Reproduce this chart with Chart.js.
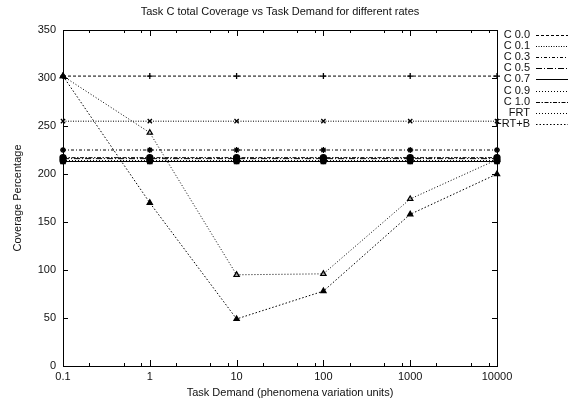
<!DOCTYPE html>
<html lang="en-US">
<head>
<meta charset="utf-8">
<title>Task C total Coverage</title>
<script src="https://cdn.jsdelivr.net/npm/chart.js@4/dist/chart.umd.min.js"></script>
<style>
  html, body { margin: 0; padding: 0; background: #fff; }
  #holder { width: 571px; height: 405px; }
</style>
</head>
<body>
<div id="holder"><canvas id="chart"></canvas></div>
<script>
// task demand values (log axis) and their tick labels
const demand = [0.1, 1, 10, 100, 1000, 10000];
const xTickLabels = ['0.1', '1', '10', '100', '1000', '10000'];
const yTicks = [0, 50, 100, 150, 200, 250, 300, 350];

const seriesNames = ['C 0.0', 'C 0.1', 'C 0.3', 'C 0.5', 'C 0.7', 'C 0.9', 'C 1.0', 'FRT', 'FRT+B'];
const c00 = [302, 302, 302, 302, 302, 302];
const c01 = [255, 255, 255, 255, 255, 255];
const c03 = [225, 225, 225, 225, 225, 225];
const c05 = [216, 216, 216, 216, 216, 216];
const c07 = [213, 213, 213, 213, 213, 213];
const c09 = [214, 214, 214, 214, 214, 214];
const c10 = [217, 217, 217, 217, 217, 217];
const frt = [302, 243, 95, 96, 174, 215];
const frtB = [302, 170, 49, 78, 158, 200];

const values = [c00, c01, c03, c05, c07, c09, c10, frt, frtB];
const dashes = [[3, 2], [1, 1.5], [3, 2, 1, 2], [6, 2, 1, 2], [], [1, 2], [4, 1.5, 1.5, 1.5], [1, 2], [1.5, 2]];
const marks = ['cross', 'crossRot', 'star', 'rect', 'rect', 'circle', 'circle', 'triangle', 'triangle'];
const filled = [false, false, false, false, true, false, true, false, true];

const FONT = '"Liberation Sans", Arial, Helvetica, sans-serif';

const datasets = seriesNames.map((name, i) => ({
  label: name,
  data: demand.map((d, k) => ({ x: d, y: values[i][k] })),
  borderColor: '#000',
  backgroundColor: filled[i] ? '#000' : '#fff',
  borderWidth: 1,
  borderDash: dashes[i],
  pointStyle: marks[i],
  pointRadius: 3,
  pointBorderWidth: 1.3,
  pointBorderColor: '#000',
  pointBackgroundColor: filled[i] ? '#000' : 'rgba(0,0,0,0)',
  fill: false,
  tension: 0,
  clip: 6
}));

// gnuplot-like frame, inward ticks, titles and key
const decor = {
  id: 'decor',
  afterDraw(chart) {
    const ctx = chart.ctx;
    const a = chart.chartArea;
    const xs = chart.scales.x, ys = chart.scales.y;
    ctx.save();
    ctx.strokeStyle = '#000';
    ctx.lineWidth = 1;
    ctx.setLineDash([]);
    ctx.strokeRect(Math.round(a.left) + 0.5, Math.round(a.top) + 0.5,
      Math.round(a.right - a.left), Math.round(a.bottom - a.top));

    ctx.beginPath();
    yTicks.forEach(v => {
      const y = Math.round(ys.getPixelForValue(v)) + 0.5;
      ctx.moveTo(a.left, y); ctx.lineTo(a.left + 5, y);
      ctx.moveTo(a.right, y); ctx.lineTo(a.right - 5, y);
    });
    demand.forEach((d, k) => {
      const x = Math.round(xs.getPixelForValue(d)) + 0.5;
      ctx.moveTo(x, a.bottom); ctx.lineTo(x, a.bottom - 6);
      ctx.moveTo(x, a.top); ctx.lineTo(x, a.top + 6);
      if (k < demand.length - 1) {
        [2, 5, 8].forEach(m => {
          const xm = Math.round(xs.getPixelForValue(d * m)) + 0.5;
          ctx.moveTo(xm, a.bottom); ctx.lineTo(xm, a.bottom - 3);
          ctx.moveTo(xm, a.top); ctx.lineTo(xm, a.top + 3);
        });
      }
    });
    ctx.stroke();

    ctx.fillStyle = '#111';
    ctx.font = '11px ' + FONT;
    ctx.textAlign = 'center';
    ctx.textBaseline = 'middle';
    ctx.fillText('Task C total Coverage vs Task Demand for different rates', 280, 12);
    ctx.fillText('Task Demand (phenomena variation units)', 290, 393);
    ctx.save();
    ctx.translate(18, (a.top + a.bottom) / 2);
    ctx.rotate(-Math.PI / 2);
    ctx.fillText('Coverage Percentage', 0, 0);
    ctx.restore();

    // key
    ctx.textAlign = 'right';
    chart.data.datasets.forEach((ds, i) => {
      const y = 35 + i * 11.1;
      ctx.fillStyle = '#111';
      ctx.fillText(ds.label, 530, y);
      ctx.beginPath();
      ctx.setLineDash(ds.borderDash);
      ctx.moveTo(536, Math.round(y) + 0.5);
      ctx.lineTo(568, Math.round(y) + 0.5);
      ctx.stroke();
    });
    ctx.restore();
  }
};

new Chart(document.getElementById('chart'), {
  type: 'line',
  data: { datasets },
  options: {
    responsive: true,
    maintainAspectRatio: false,
    animation: false,
    layout: { padding: { top: 30, right: 74, left: 0, bottom: 0 } },
    plugins: { legend: { display: false }, title: { display: false }, tooltip: { enabled: false } },
    scales: {
      x: {
        type: 'logarithmic',
        min: 0.1,
        max: 10000,
        grid: { display: false, drawTicks: false },
        border: { display: false },
        afterBuildTicks: s => { s.ticks = demand.map(v => ({ value: v })); },
        afterFit: s => { s.height = 39; },
        ticks: {
          autoSkip: false,
          maxRotation: 0,
          padding: 4,
          color: '#111',
          font: { family: FONT, size: 11 },
          callback: (v) => xTickLabels[demand.indexOf(v)] ?? ''
        }
      },
      y: {
        min: 0,
        max: 350,
        grid: { display: false, drawTicks: false },
        border: { display: false },
        afterFit: s => { s.width = 63; },
        ticks: {
          stepSize: 50,
          padding: 7,
          color: '#111',
          font: { family: FONT, size: 11 }
        }
      }
    }
  },
  plugins: [decor]
});
</script>
</body>
</html>
